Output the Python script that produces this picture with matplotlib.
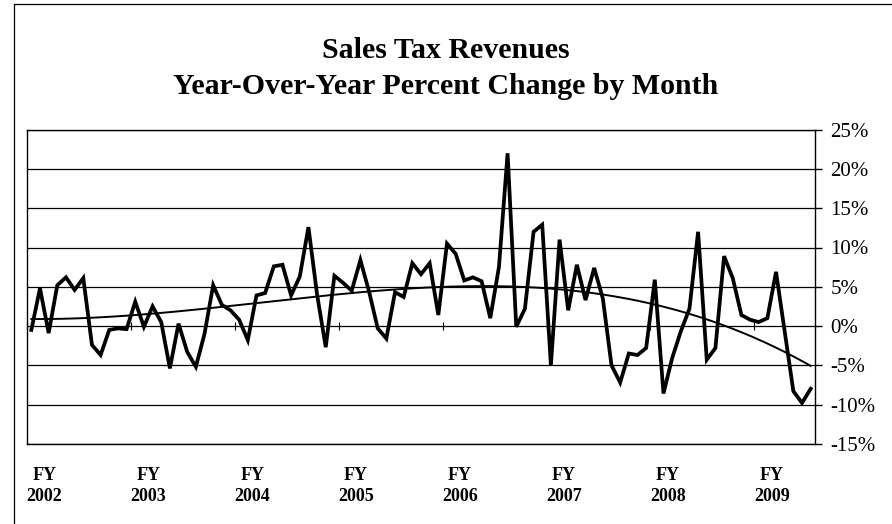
import numpy as np
import matplotlib
matplotlib.use("Agg")
import matplotlib.pyplot as plt
from matplotlib.lines import Line2D

# Year-over-year % change by month, July 2001 (FY2002) .. January 2009
pct_change = [
    -0.5, 4.8, -0.9, 5.2, 6.2, 4.6, 6.1, -2.4, -3.7, -0.5, -0.3, -0.4,   # FY2002
    3.1, -0.1, 2.5, 0.5, -5.4, 0.3, -3.3, -5.2, -1.0, 5.2, 2.7, 2.0,     # FY2003
    0.8, -1.8, 3.9, 4.2, 7.6, 7.8, 3.9, 6.3, 12.6, 4.0, -2.7, 6.4,       # FY2004
    5.5, 4.5, 8.4, 4.4, -0.3, -1.6, 4.3, 3.7, 8.0, 6.6, 8.0, 1.4,        # FY2005
    10.5, 9.2, 5.8, 6.2, 5.7, 1.0, 7.5, 22.0, -0.1, 2.2, 12.0, 12.9,     # FY2006
    -5.0, 11.0, 2.0, 7.8, 3.3, 7.4, 3.5, -5.0, -7.2, -3.5, -3.7, -2.8,   # FY2007
    5.9, -8.6, -4.1, -0.7, 2.2, 12.0, -4.3, -2.8, 8.9, 6.1, 1.4, 0.8,    # FY2008
    0.5, 1.0, 6.9, -0.7, -8.3, -9.8, -8.0,                               # FY2009
]
fy_labels = ["FY\n2002", "FY\n2003", "FY\n2004", "FY\n2005",
             "FY\n2006", "FY\n2007", "FY\n2008", "FY\n2009"]
y_ticks = [-15, -10, -5, 0, 5, 10, 15, 20, 25]
trend_degree = 3

plt.rcParams["font.family"] = ["Liberation Serif", "DejaVu Serif"]

n = len(pct_change)
x = np.arange(n)
coef = np.polyfit(x, pct_change, trend_degree)
xt = np.linspace(0, n - 1, 300)
trend = np.polyval(coef, xt)

fig = plt.figure(figsize=(8.92, 5.24), dpi=100)
ax = fig.add_axes([27 / 892, (524 - 443.75) / 524, (815 - 27) / 892, (443.75 - 129.75) / 524])

ax.plot(x, pct_change, color="black", lw=2.7, solid_joinstyle="miter", zorder=3)
ax.plot(xt, trend, color="black", lw=1.4, zorder=3)

ax.set_xlim(-0.5, n - 0.5)
ax.set_ylim(-15, 25)
ax.set_yticks(y_ticks)
ax.set_yticklabels([f"{v}%" for v in y_ticks], fontsize=15)
ax.yaxis.tick_right()
ax.tick_params(axis="y", direction="out", length=5, width=1, pad=6, colors="black")
ax.grid(axis="y", color="black", lw=0.9)
ax.set_axisbelow(True)

# FY labels below the plot
year_starts = np.arange(0, n, 12)
ax.set_xticks(year_starts + 1.5)
ax.set_xticklabels(fy_labels, fontsize=13, fontweight="bold", linespacing=1.25)
ax.tick_params(axis="x", length=0, pad=17)

# category axis ticks crossing at 0%
sec = ax.secondary_xaxis(15 / 40)
sec.set_xticks(year_starts - 0.5)
sec.set_xticklabels([])
sec.tick_params(direction="inout", length=6, width=0.8)
sec.spines["bottom"].set_visible(False)
sec.spines["top"].set_visible(False)

for s in ax.spines.values():
    s.set_color("black")
    s.set_linewidth(1.0)

fig.text(0.5, 1 - 51 / 524, "Sales Tax Revenues", ha="center", va="center",
         fontsize=21.5, fontweight="bold")
fig.text(0.5, 1 - 86 / 524, "Year-Over-Year Percent Change by Month", ha="center",
         va="center", fontsize=21.5, fontweight="bold")

# outer chart border (left and top edges)
fig.add_artist(Line2D([14 / 892, 14 / 892], [0, 1 - 4 / 524], color="black", lw=0.9))
fig.add_artist(Line2D([14 / 892, 1], [1 - 4 / 524, 1 - 4 / 524], color="black", lw=0.9))

fig.savefig("out.png", dpi=100, facecolor="white")
